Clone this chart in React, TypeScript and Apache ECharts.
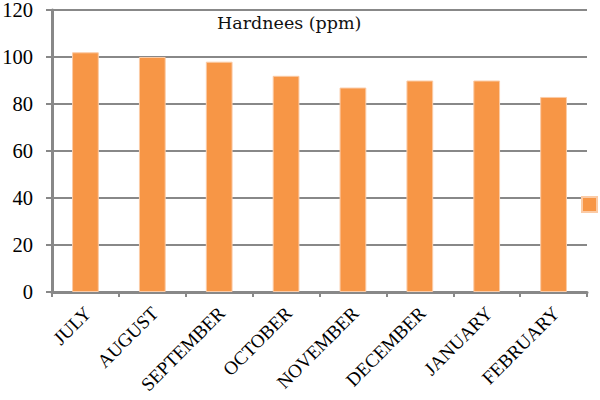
import React, { useEffect, useRef } from "react";
import * as echarts from "echarts";

const categories = ["JULY", "AUGUST", "SEPTEMBER", "OCTOBER", "NOVEMBER", "DECEMBER", "JANUARY", "FEBRUARY"];
const hardness = [102, 100, 98, 92, 87, 90, 90, 83];
const seriesName = "Hardnees (ppm)";
const titleText = "Hardnees (ppm)";

const FONT = "Liberation Serif";
const TITLE_FONT = "DejaVu Serif";
const GREY = "#888888";

export default function App() {
  const ref = useRef<HTMLDivElement>(null);
  useEffect(() => {
    if (!ref.current) return;
    const chart = echarts.init(ref.current, undefined, { renderer: "svg" });
    chart.setOption({
      animation: false,
      backgroundColor: "#ffffff",
      title: {
        text: titleText,
        left: 217,
        top: 14,
        padding: 0,
        textStyle: { fontFamily: TITLE_FONT, fontSize: 17.5, fontWeight: "normal", color: "#111" },
      },
      legend: {
        left: 581,
        top: 196,
        padding: 0,
        itemWidth: 15,
        itemHeight: 15,
        icon: "rect",
        data: [seriesName],
        formatter: () => " ",
        textStyle: { fontSize: 1 },
      },
      grid: { left: 52, right: 13, top: 10, bottom: 108, containLabel: false, outerBoundsMode: "none" },
      xAxis: {
        type: "category",
        data: categories,
        axisLine: { lineStyle: { color: GREY, width: 3 } },
        axisTick: { show: true, length: 5, lineStyle: { color: GREY, width: 2 } },
        axisLabel: {
          rotate: 45,
          interval: 0,
          margin: 7,
          padding: [0, 6, 0, 0],
          verticalAlign: "top",
          fontFamily: FONT,
          fontSize: 19,
          color: "#000",
        },
        splitLine: { show: false },
      },
      yAxis: {
        type: "value",
        min: 0,
        max: 120,
        interval: 20,
        axisLine: { show: true, lineStyle: { color: GREY, width: 3 } },
        axisTick: { show: true, length: 6, lineStyle: { color: GREY, width: 2 } },
        axisLabel: { margin: 19, fontFamily: FONT, fontSize: 20.5, lineHeight: 18, color: "#000" },
        splitLine: { show: true, lineStyle: { color: GREY, width: 2 } },
      },
      series: [
        {
          name: seriesName,
          type: "bar",
          data: hardness,
          barWidth: "40%",
          itemStyle: { color: "#F79646", borderColor: "#FBCBA6", borderWidth: 1 },
        },
      ],
    });
    return () => chart.dispose();
  }, []);
  return <div ref={ref} style={{ width: 600, height: 400, position: "absolute", left: 0, top: 0 }} />;
}
